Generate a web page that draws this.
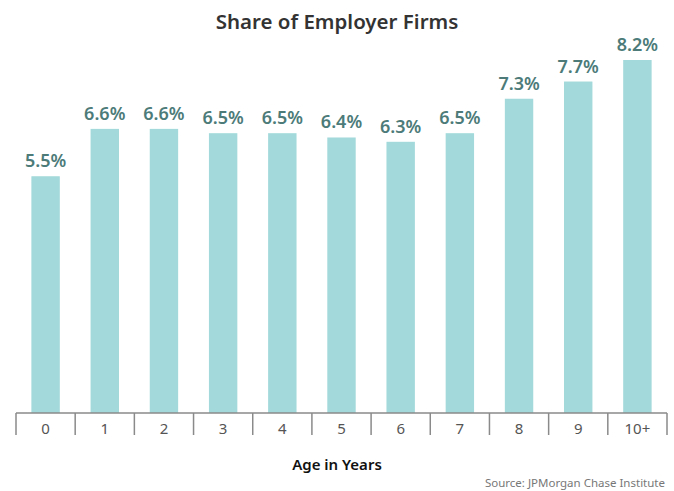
<!DOCTYPE html>
<html>
<head>
<meta charset="utf-8">
<script src="https://cdn.jsdelivr.net/npm/d3@7"></script>
<style>
    body { margin: 0; background: #fff; }
    svg { display: block; font-family: "Noto Sans", "Open Sans", sans-serif; }
</style>
</head>
<body>
<div id="chart"></div>
<script>
const ages = ["0", "1", "2", "3", "4", "5", "6", "7", "8", "9", "10+"];
const shares = [5.5, 6.6, 6.6, 6.5, 6.5, 6.4, 6.3, 6.5, 7.3, 7.7, 8.2];

let width = 674,
    height = 491,
    margin = { top: 60, right: 7, bottom: 78, left: 16 };

const svg = d3
    .select("#chart")
    .append("svg")
    .attr("width", width)
    .attr("height", height);

let x = d3
    .scaleBand()
    .domain(ages)
    .range([margin.left, width - margin.right])
    .paddingInner(0.52)
    .paddingOuter(0.26);

let y = d3
    .scaleLinear()
    .domain([0, 8.2])
    .range([height - margin.bottom, margin.top]);

let data = ages.map((a, i) => ({ age: a, value: shares[i] }));

svg.append("g")
    .selectAll("rect")
    .data(data)
    .join("rect")
    .attr("x", (d) => x(d.age))
    .attr("width", x.bandwidth())
    .attr("y", (d) => y(d.value))
    .attr("height", (d) => y(0) - y(d.value))
    .attr("fill", "#a3d9da");

svg.append("g")
    .selectAll("text")
    .data(data)
    .join("text")
    .attr("x", (d) => x(d.age) + x.bandwidth() / 2)
    .attr("y", (d) => y(d.value) - 9)
    .attr("text-anchor", "middle")
    .attr("fill", "#4c7b79")
    .attr("font-size", 18)
    .attr("font-weight", 600)
    .text((d) => d.value.toFixed(1) + "%");

// axis: baseline plus boxes between categories
let step = x.step();
let axis = svg.append("g").attr("class", "x-axis");
axis.append("line")
    .attr("x1", margin.left)
    .attr("x2", width - margin.right)
    .attr("y1", y(0))
    .attr("y2", y(0))
    .attr("stroke", "#8a8a8a")
    .attr("stroke-width", 1.5);
axis.selectAll("line.tick")
    .data(d3.range(ages.length + 1))
    .join("line")
    .attr("class", "tick")
    .attr("x1", (i) => margin.left + i * step)
    .attr("x2", (i) => margin.left + i * step)
    .attr("y1", y(0))
    .attr("y2", y(0) + 22)
    .attr("stroke", "#8a8a8a")
    .attr("stroke-width", 1.5);
axis.selectAll("text")
    .data(ages)
    .join("text")
    .attr("x", (d) => x(d) + x.bandwidth() / 2)
    .attr("y", y(0) + 21)
    .attr("text-anchor", "middle")
    .attr("fill", "#555")
    .attr("font-size", 15)
    .text((d) => d);

svg.append("text")
    .attr("x", width / 2)
    .attr("y", 29)
    .attr("text-anchor", "middle")
    .attr("fill", "#333")
    .attr("font-size", 20.5)
    .attr("font-weight", 600)
    .text("Share of Employer Firms");

svg.append("text")
    .attr("x", width / 2)
    .attr("y", 470)
    .attr("text-anchor", "middle")
    .attr("fill", "#111")
    .attr("font-size", 15)
    .attr("font-weight", 600)
    .text("Age in Years");

svg.append("text")
    .attr("x", 665)
    .attr("y", 487)
    .attr("text-anchor", "end")
    .attr("fill", "#777")
    .attr("font-size", 11.5)
    .text("Source: JPMorgan Chase Institute");
</script>
</body>
</html>
